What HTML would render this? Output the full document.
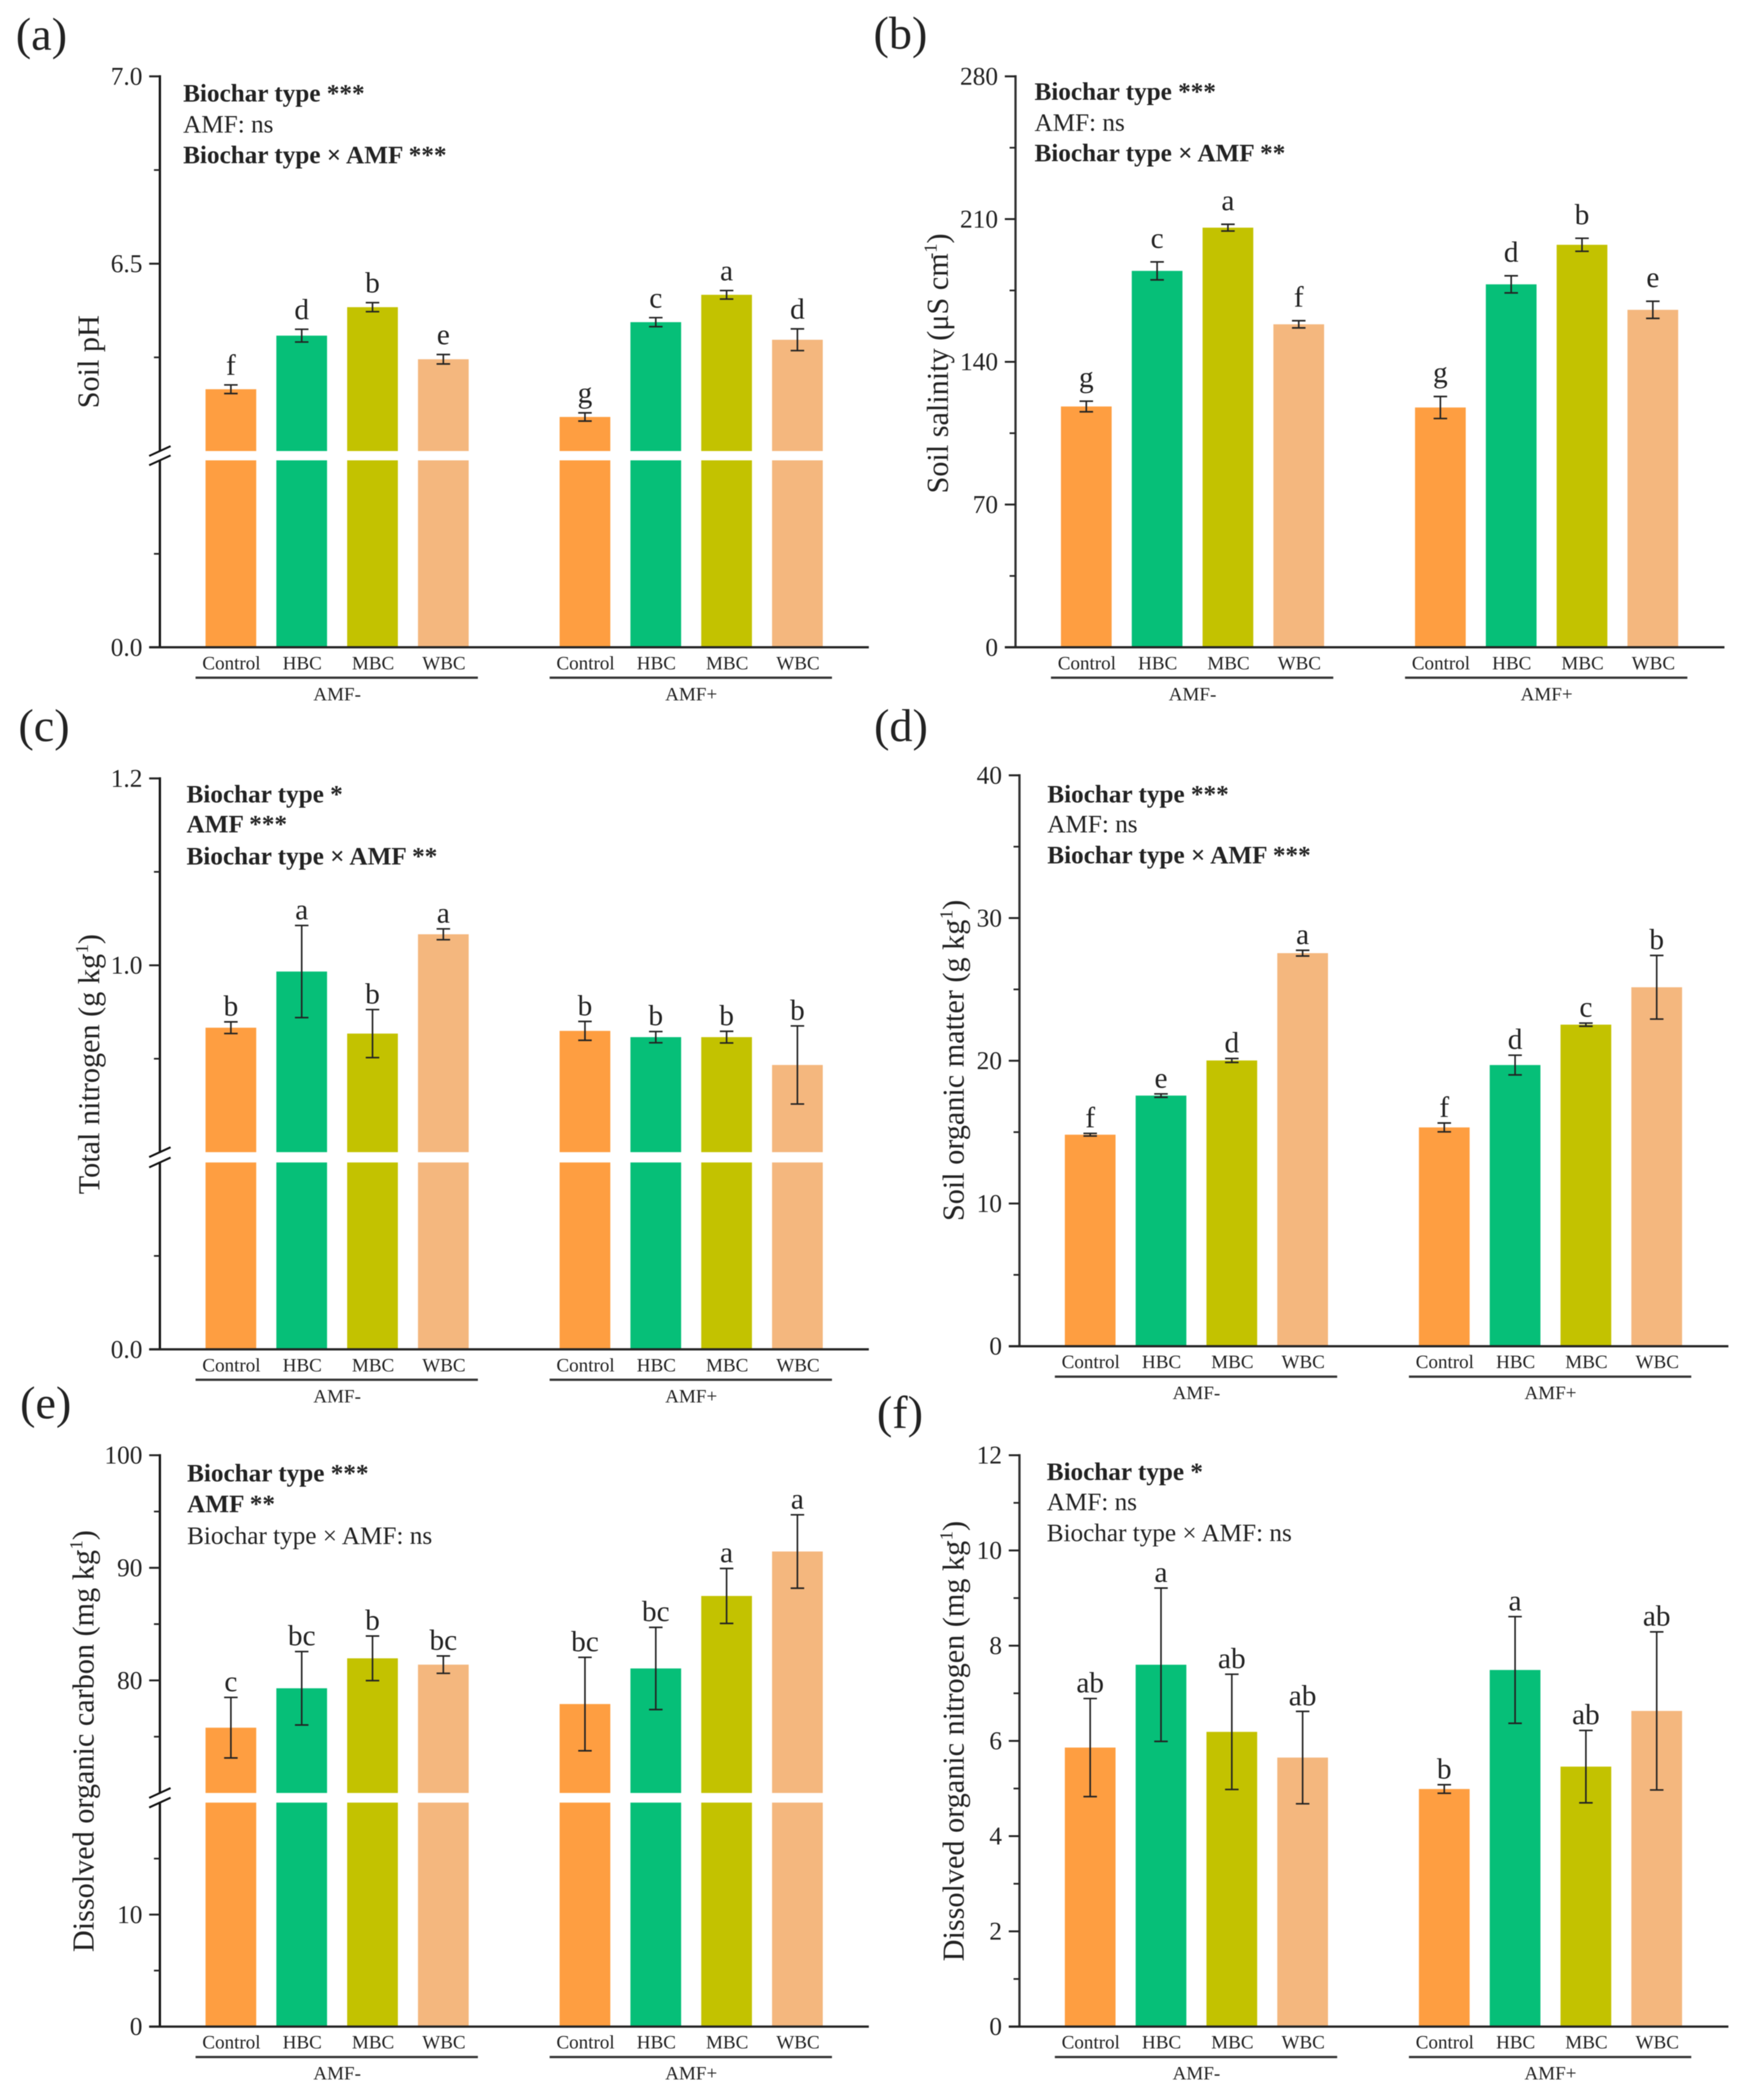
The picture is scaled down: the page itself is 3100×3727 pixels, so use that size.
<!DOCTYPE html>
<html lang="en">
<head>
<meta charset="utf-8">
<title>Soil properties under biochar type and AMF treatments</title>
<style>
html,body{margin:0;padding:0;background:#fff;}
svg{display:block;filter:blur(0.7px);}
text{font-family:"Liberation Serif",serif;fill:#222;}
</style>
</head>
<body>
<svg id="figure" xmlns="http://www.w3.org/2000/svg" width="3100" height="3727" viewBox="0 0 3100 3727"></svg>
<script>
// ---- shared categories ----
const categories = ['Control','HBC','MBC','WBC','Control','HBC','MBC','WBC'];
const groupNames = ['AMF-','AMF+'];
const barColors = ['#FE9E41','#06BF78','#C3C200','#F4B77E'];

// ---- panel (a) soil pH ----
const phMeans = [6.165,6.308,6.384,6.245,6.091,6.344,6.417,6.297];
const phErrors = [0.0115,0.017,0.012,0.0126,0.011,0.012,0.0114,0.029];
const phLetters = ['f','d','b','e','g','c','a','d'];
const phMajorTicks = [0,6.5,7];
const phTickLabels = ['0.0','6.5','7.0'];
const phMinorTicks = [3,6.25,6.75];

// ---- panel (b) soil salinity ----
const salinityMeans = [118.1,184.6,205.8,158.4,117.6,178,197.4,165.5];
const salinityErrors = [2.6,4.4,1.65,1.76,5.4,4.2,3.2,4.2];
const salinityLetters = ['g','c','a','f','g','d','b','e'];
const salinityMajorTicks = [0,70,140,210,280];
const salinityTickLabels = ['0','70','140','210','280'];
const salinityMinorTicks = [35,105,175,245];

// ---- panel (c) total nitrogen ----
const nitrogenMeans = [0.9332,0.9933,0.9269,1.0332,0.9298,0.9231,0.9231,0.8933];
const nitrogenErrors = [0.00625,0.0493,0.0257,0.0058,0.0101,0.006,0.00625,0.0418];
const nitrogenLetters = ['b','a','b','a','b','b','b','b'];
const nitrogenMajorTicks = [0,1,1.2];
const nitrogenTickLabels = ['0.0','1.0','1.2'];
const nitrogenMinorTicks = [0.4,0.9,1.1];

// ---- panel (d) soil organic matter ----
const organicMeans = [14.82,17.56,20.02,27.54,15.33,19.7,22.53,25.15];
const organicErrors = [0.09,0.12,0.14,0.2,0.31,0.69,0.11,2.23];
const organicLetters = ['f','e','d','a','f','d','c','b'];
const organicMajorTicks = [0,10,20,30,40];
const organicTickLabels = ['0','10','20','30','40'];
const organicMinorTicks = [5,15,25,35];

// ---- panel (e) dissolved organic carbon ----
const docMeans = [75.8,79.3,81.96,81.4,77.9,81.06,87.5,91.45];
const docErrors = [2.69,3.26,1.98,0.77,4.15,3.65,2.44,3.26];
const docLetters = ['c','bc','b','bc','bc','bc','a','a'];
const docMajorTicks = [0,10,80,90,100];
const docTickLabels = ['0','10','80','90','100'];
const docMinorTicks = [5,15,75,85,95];

// ---- panel (f) dissolved organic nitrogen ----
const donMeans = [5.86,7.6,6.19,5.65,4.99,7.49,5.46,6.63];
const donErrors = [1.03,1.61,1.21,0.97,0.09,1.12,0.76,1.66];
const donLetters = ['ab','a','ab','ab','b','a','ab','ab'];
const donMajorTicks = [0,2,4,6,8,10,12];
const donTickLabels = ['0','2','4','6','8','10','12'];
const donMinorTicks = [1,3,5,7,9,11];

// ---- statistics annotations ----
const phStats = [['Biochar type ***',1],['AMF: ns',0],['Biochar type × AMF ***',1]];
const salinityStats = [['Biochar type ***',1],['AMF: ns',0],['Biochar type × AMF **',1]];
const nitrogenStats = [['Biochar type *',1],['AMF ***',1],['Biochar type × AMF **',1]];
const organicStats = [['Biochar type ***',1],['AMF: ns',0],['Biochar type × AMF ***',1]];
const docStats = [['Biochar type ***',1],['AMF **',1],['Biochar type × AMF: ns',0]];
const donStats = [['Biochar type *',1],['AMF: ns',0],['Biochar type × AMF: ns',0]];

// ---- panel layout ----
const panels = [
 {id:'a',means:phMeans,errors:phErrors,letters:phLetters,major:phMajorTicks,labels:phTickLabels,minor:phMinorTicks,stats:phStats,
  axisX:283.7,firstBar:409.7,statX:325,statY:[180,235,289.4],letterGap:18,
  segs:[[6,7,800.5,135.5],[0,6,1148.8,817]],
  title:'Soil pH',sup:'',close:'',titleX:175,titleY:642,tag:'(a)',tagX:28,tagY:88},
 {id:'b',means:salinityMeans,errors:salinityErrors,letters:salinityLetters,major:salinityMajorTicks,labels:salinityTickLabels,minor:salinityMinorTicks,stats:salinityStats,
  axisX:1802,firstBar:1927.6,statX:1835.7,statY:[177,232,286],letterGap:25,
  segs:[[0,280,1148.8,135.5]],
  title:'Soil salinity (μS cm',sup:'-1',close:')',titleX:1682,titleY:645,tag:'(b)',tagX:1550,tagY:86},
 {id:'c',means:nitrogenMeans,errors:nitrogenErrors,letters:nitrogenLetters,major:nitrogenMajorTicks,labels:nitrogenTickLabels,minor:nitrogenMinorTicks,stats:nitrogenStats,
  axisX:283.7,firstBar:409.7,statX:331,statY:[1423.8,1477,1533.8],letterGap:11,
  segs:[[0.8,1.2,2044.8,1381.5],[0,0.8,2394.8,2063.1]],
  title:'Total nitrogen (g kg',sup:'-1',close:')',titleX:176,titleY:1888.6,tag:'(c)',tagX:32.6,tagY:1315},
 {id:'d',means:organicMeans,errors:organicErrors,letters:organicLetters,major:organicMajorTicks,labels:organicTickLabels,minor:organicMinorTicks,stats:organicStats,
  axisX:1809,firstBar:1934.5,statX:1858.4,statY:[1423.8,1477,1532],letterGap:11,
  segs:[[0,40,2389.2,1376]],
  title:'Soil organic matter (g kg',sup:'-1',close:')',titleX:1710,titleY:1882,tag:'(d)',tagX:1551,tagY:1315},
 {id:'e',means:docMeans,errors:docErrors,letters:docLetters,major:docMajorTicks,labels:docTickLabels,minor:docMinorTicks,stats:docStats,
  axisX:283.7,firstBar:409.7,statX:332,statY:[2629,2683.7,2740],letterGap:11,
  segs:[[70,100,3182.1,2582.7],[0,20,3596.7,3199.2]],
  title:'Dissolved organic carbon (mg kg',sup:'-1',close:')',titleX:166,titleY:3090,tag:'(e)',tagX:35.6,tagY:2517},
 {id:'f',means:donMeans,errors:donErrors,letters:donLetters,major:donMajorTicks,labels:donTickLabels,minor:donMinorTicks,stats:donStats,
  axisX:1809,firstBar:1934.5,statX:1857.4,statY:[2626.7,2680,2735],letterGap:11,
  segs:[[0,12,3596.7,2582.7]],
  title:'Dissolved organic nitrogen (mg kg',sup:'-1',close:')',titleX:1710,titleY:3090,tag:'(f)',tagX:1556,tagY:2534}
];

const NS = 'http://www.w3.org/2000/svg';
const svg = document.getElementById('figure');
const STEP = 125.66, BAR_W = 90, CAP = 12;

function make(parent, tag){
  const el = document.createElementNS(NS, tag);
  parent.appendChild(el);
  return el;
}
function setA(el, map){
  for (const k in map) el.setAttribute(k, map[k]);
  return el;
}
function yScale(segs){
  return function(v){
    for (const s of segs){
      if (v >= s[0] && v <= s[1]) return s[2] + (v - s[0]) / (s[1] - s[0]) * (s[3] - s[2]);
    }
    const s = segs[0];
    return s[2] + (v - s[0]) / (s[1] - s[0]) * (s[3] - s[2]);
  };
}
function xScale(p){
  return function(i){
    const slot = i < 4 ? i : i + 1;
    return p.firstBar + slot * STEP;
  };
}

panels.forEach(function(p){
  const y = yScale(p.segs);
  const x = xScale(p);
  const baseY = y(0);
  const top = y(p.major[p.major.length - 1]);

  const g = make(svg, 'g');
  
  

  const tag = make(g, 'text');
  
  
  setA(tag, {x:p.tagX, y:p.tagY, 'font-size':82});
  tag.textContent = p.tag;

  // bars (split at the axis break when there is one)
  p.means.forEach(function(v, i){
    const cx = x(i);
    const color = barColors[i % 4];
    const barTop = y(v);
    if (p.segs.length > 1) {
      const upper = make(g, 'rect');
      
      
      setA(upper, {x:cx - BAR_W / 2, y:barTop, width:BAR_W, height:p.segs[0][2] - barTop, fill:color});
      const lower = make(g, 'rect');
      
      
      setA(lower, {x:cx - BAR_W / 2, y:p.segs[1][3], width:BAR_W, height:baseY - p.segs[1][3], fill:color});
    } else {
      const bar = make(g, 'rect');
      
      
      setA(bar, {x:cx - BAR_W / 2, y:barTop, width:BAR_W, height:baseY - barTop, fill:color});
    }
  });

  // error bars and significance letters
  p.means.forEach(function(v, i){
    const cx = x(i);
    const hi = y(v + p.errors[i]);
    const lo = y(v - p.errors[i]);
    const err = make(g, 'path');
    
    
    setA(err, {d:'M' + (cx - CAP) + ' ' + hi + 'H' + (cx + CAP) + 'M' + cx + ' ' + hi + 'V' + lo + 'M' + (cx - CAP) + ' ' + lo + 'H' + (cx + CAP),
      stroke:'#222', 'stroke-width':2.8, fill:'none'});
    const letter = make(g, 'text');
    
    
    setA(letter, {x:cx, y:hi - p.letterGap, 'font-size':52, 'text-anchor':'middle'});
    letter.textContent = p.letters[i];
  });

  // y axis line (with a gap at the break)
  const axisX = p.axisX;
  if (p.segs.length > 1) {
    const axisTop = make(g, 'line');
    
    
    setA(axisTop, {x1:axisX, x2:axisX, y1:top - 2, y2:p.segs[0][2], stroke:'#111', 'stroke-width':4});
    const axisLow = make(g, 'line');
    
    
    setA(axisLow, {x1:axisX, x2:axisX, y1:p.segs[1][3], y2:baseY, stroke:'#111', 'stroke-width':4});
    [p.segs[0][2], p.segs[1][3]].forEach(function(by, k){
      const mark = make(g, 'line');
      
      
      setA(mark, {x1:axisX - 19, x2:axisX + 19, y1:by + 8.7, y2:by - 8.7, stroke:'#111', 'stroke-width':3.5});
    });
  } else {
    const axis = make(g, 'line');
    
    
    setA(axis, {x1:axisX, x2:axisX, y1:top - 2, y2:baseY, stroke:'#333', 'stroke-width':4});
  }

  // ticks
  p.major.forEach(function(v, i){
    const ty = y(v);
    const tick = make(g, 'line');
    
    
    setA(tick, {x1:axisX - 19, x2:axisX, y1:ty, y2:ty, stroke:'#222', 'stroke-width':3.4});
    const lab = make(g, 'text');
    
    
    setA(lab, {x:axisX - 31, y:ty + 15, 'font-size':45, 'text-anchor':'end'});
    lab.textContent = p.labels[i];
  });
  p.minor.forEach(function(v, i){
    const ty = y(v);
    const tick = make(g, 'line');
    
    
    setA(tick, {x1:axisX - 10.5, x2:axisX, y1:ty, y2:ty, stroke:'#222', 'stroke-width':3});
  });

  // x axis
  const xAxis = make(g, 'line');
  
  
  setA(xAxis, {x1:axisX - 19, x2:axisX + 1258, y1:baseY, y2:baseY, stroke:'#222', 'stroke-width':4});

  categories.forEach(function(c, i){
    const lab = make(g, 'text');
    
    
    setA(lab, {x:x(i) + 1, y:baseY + 39, 'font-size':33.8, 'text-anchor':'middle'});
    lab.textContent = c;
  });
  groupNames.forEach(function(name, k){
    const first = x(k * 4);
    const rule = make(g, 'line');
    
    
    setA(rule, {x1:first - 62.7, x2:first + 438.3, y1:baseY + 54, y2:baseY + 54, stroke:'#333', 'stroke-width':4});
    const lab = make(g, 'text');
    
    
    setA(lab, {x:first + 188.5, y:baseY + 94, 'font-size':33.8, 'text-anchor':'middle'});
    lab.textContent = name;
  });

  // statistics text
  p.stats.forEach(function(s, i){
    const st = make(g, 'text');
    
    
    setA(st, {x:p.statX, y:p.statY[i], 'font-size':44.7, 'font-weight':s[1] ? 'bold' : 'normal'});
    st.textContent = s[0];
  });

  // y axis title
  const title = make(g, 'text');
  
  
  setA(title, {transform:'translate(' + p.titleX + ' ' + p.titleY + ') rotate(-90)', 'font-size':53.6, 'text-anchor':'middle'});
  const mainPart = make(title, 'tspan');
  mainPart.textContent = p.title;
  if (p.sup) {
    const supPart = make(title, 'tspan');
    setA(supPart, {dy:-20, dx:-10, 'font-size':33});
    supPart.textContent = p.sup;
    const closePart = make(title, 'tspan');
    setA(closePart, {dy:20});
    closePart.textContent = p.close;
  }
});
</script>
</body>
</html>
